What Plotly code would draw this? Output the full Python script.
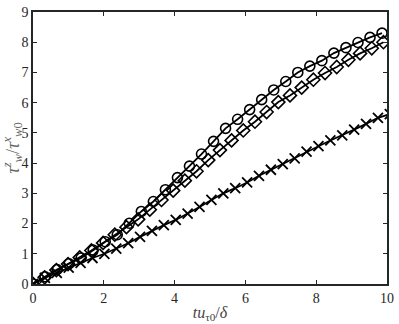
import plotly.graph_objects as go

# circle series
x_circle = [0.0, 0.34, 0.68, 1.02, 1.36, 1.7, 2.04, 2.38, 2.72, 3.06,
            3.4, 3.74, 4.08, 4.42, 4.76, 5.1, 5.44, 5.78, 6.12, 6.46,
            6.8, 7.14, 7.48, 7.82, 8.16, 8.5, 8.84, 9.18, 9.52, 9.86]
y_circle = [0.0, 0.24, 0.48, 0.67, 0.86, 1.12, 1.40, 1.63, 2.01, 2.40,
            2.73, 3.12, 3.52, 3.90, 4.30, 4.72, 5.15, 5.45, 5.77, 6.10,
            6.42, 6.70, 7.00, 7.21, 7.39, 7.64, 7.82, 7.99, 8.16, 8.30]

# diamond series
x_diamond = [0.0, 0.33, 0.66, 0.99, 1.32, 1.65, 1.98, 2.31, 2.64, 2.97,
             3.3, 3.63, 3.96, 4.29, 4.62, 4.95, 5.28, 5.61, 5.94, 6.27,
             6.6, 6.93, 7.26, 7.59, 7.92, 8.25, 8.58, 8.91, 9.24, 9.57, 9.9]
y_diamond = [0.0, 0.22, 0.46, 0.66, 0.88, 1.11, 1.36, 1.63, 1.88, 2.14,
             2.46, 2.78, 3.09, 3.42, 3.73, 4.10, 4.43, 4.75, 5.08, 5.37,
             5.69, 6.02, 6.24, 6.50, 6.76, 6.98, 7.18, 7.42, 7.63, 7.80, 8.00]

# cross series
x_cross = [0.0, 0.336, 0.672, 1.008, 1.344, 1.68, 2.016, 2.352, 2.688, 3.024,
           3.36, 3.696, 4.032, 4.368, 4.704, 5.04, 5.376, 5.712, 6.048, 6.384,
           6.72, 7.056, 7.392, 7.728, 8.064, 8.4, 8.736, 9.072, 9.408, 9.744, 10.08]
y_cross = [0.0, 0.20, 0.37, 0.54, 0.70, 0.86, 1.00, 1.17, 1.35, 1.56,
           1.76, 1.95, 2.12, 2.33, 2.55, 2.78, 3.00, 3.17, 3.36, 3.58,
           3.78, 3.97, 4.16, 4.38, 4.56, 4.75, 4.92, 5.11, 5.30, 5.50, 5.62]

x_ticks = [0, 2, 4, 6, 8, 10]
y_ticks = [0, 1, 2, 3, 4, 5, 6, 7, 8, 9]

SERIF = "Liberation Serif"

fig = go.Figure()

fig.add_trace(go.Scatter(
    x=x_cross, y=y_cross, mode="lines+markers",
    line=dict(color="black", width=1.8),
    marker=dict(symbol="x-thin", size=10, line=dict(color="black", width=1.8)),
))
fig.add_trace(go.Scatter(
    x=x_diamond, y=y_diamond, mode="lines+markers",
    line=dict(color="black", width=1.8),
    marker=dict(symbol="diamond-open", size=10, color="black", line=dict(width=1.6)),
))
fig.add_trace(go.Scatter(
    x=x_circle, y=y_circle, mode="lines+markers",
    line=dict(color="black", width=1.8),
    marker=dict(symbol="circle-open", size=10, color="black", line=dict(width=1.6)),
))

axis_style = dict(
    showline=True, linecolor="#262626", linewidth=1.5, mirror="ticks",
    ticks="inside", ticklen=4, tickwidth=1, tickcolor="#262626",
    showgrid=False, zeroline=False, ticklabeloverflow="allow",
    tickfont=dict(family=SERIF, size=14, color="#262626"),
)

fig.update_xaxes(
    range=[0, 10], tickvals=x_ticks, **axis_style,
    title=dict(text="<i>tu</i><sub>τ0</sub>/<i>δ</i>", standoff=2,
               font=dict(family=SERIF, size=16, color="#444444")),
)
fig.update_yaxes(
    range=[0, 9], tickvals=y_ticks, **axis_style,
    title=dict(text="<i>τ</i><sup><i>z</i></sup><sub><i>w</i></sub>/<i>τ</i><sup><i>x</i></sup><sub><i>w</i>0</sub>",
               standoff=2,
               font=dict(family=SERIF, size=18, color="#666666")),
)

fig.update_layout(
    width=399, height=324,
    margin=dict(l=33, r=7, t=5, b=40),
    plot_bgcolor="white", paper_bgcolor="white",
    showlegend=False,
)

fig.write_html("out.html", config={"displayModeBar": False},
               post_script="document.body.style.margin='0';")
